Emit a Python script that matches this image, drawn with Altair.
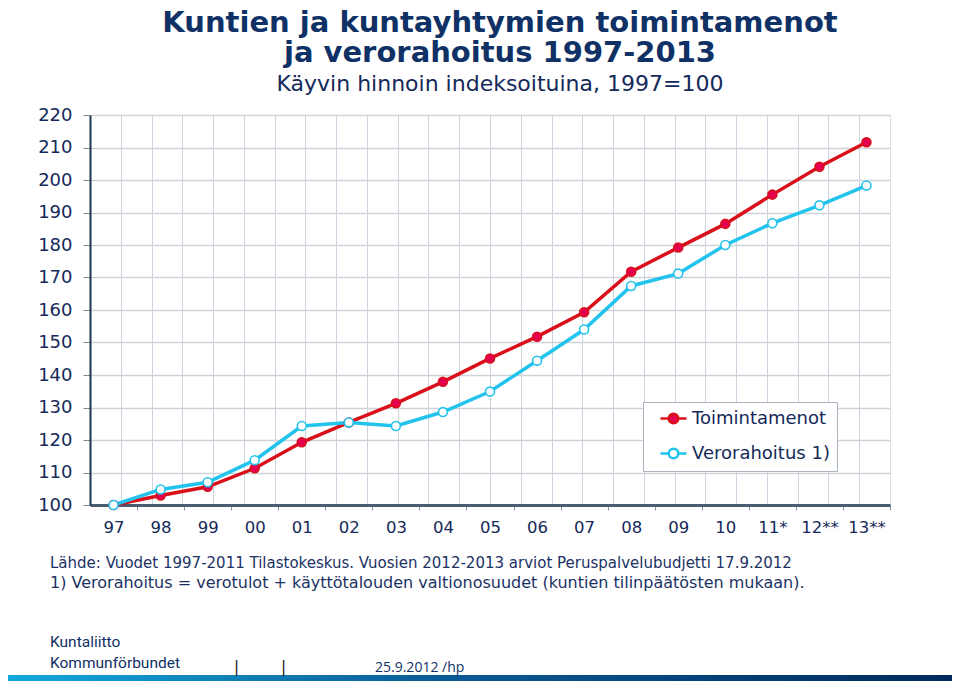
import altair as alt
import pandas as pd

YEARS = ["97", "98", "99", "00", "01", "02", "03", "04", "05", "06", "07", "08",
         "09", "10", "11*", "12**", "13**"]
TOIMINTAMENOT = [100, 102.9, 105.6, 111.3, 119.3, 125.4, 131.3, 137.9, 145.1, 151.8,
                 159.3, 171.8, 179.2, 186.5, 195.5, 204.1, 211.6]
VERORAHOITUS = [100, 104.8, 107.0, 113.8, 124.3, 125.4, 124.3, 128.6, 134.9, 144.4,
                154.0, 167.4, 171.2, 180.0, 186.7, 192.2, 198.3]
SERIES = ["Toimintamenot", "Verorahoitus 1)"]
Y_TICKS = list(range(100, 221, 10))
GRID_DIVISIONS = 26
TITLE_LINES = ["Kuntien ja kuntayhtymien toimintamenot", "ja verorahoitus 1997-2013"]
SUBTITLE = "Käyvin hinnoin indeksoituina, 1997=100"
FOOTNOTES = [
    "Lähde: Vuodet 1997-2011 Tilastokeskus. Vuosien 2012-2013 arviot Peruspalvelubudjetti 17.9.2012",
    "1) Verorahoitus = verotulot + käyttötalouden valtionosuudet (kuntien tilinpäätösten mukaan).",
]
LOGO_LINES = ["Kuntaliitto", "Kommunförbundet"]
DATE_TEXT = "25.9.2012 /hp"

NAVY = "#15295a"
TITLE_NAVY = "#0f3166"
FRAME = "#1f3550"
RED = "#d9101a"
PINK = "#e5004f"
CYAN = "#22c3ec"

W, H = 800, 390
PAD = {"left": 82, "top": 107, "right": 62, "bottom": 176}

df = pd.DataFrame({
    "year": YEARS * 2,
    "series": [SERIES[0]] * len(YEARS) + [SERIES[1]] * len(YEARS),
    "value": TOIMINTAMENOT + VERORAHOITUS,
})

step = W / len(YEARS)

SYMBOL = ("M-1.625,0H-0.6M0.6,0H1.625"
          "M-0.6,0A0.6,0.6,0,1,1,0.6,0A0.6,0.6,0,1,1,-0.6,0Z")

legend = alt.Legend(
    title=None, orient="none", legendX=553, legendY=287,
    symbolType=SYMBOL, symbolSize=256, symbolStrokeWidth=2.5,
    labelFontSize=18, labelFont="DejaVu Sans", labelColor=NAVY,
    fillColor="white", strokeColor="#aab4c0", padding=7,
    rowPadding=14, labelOffset=9, symbolOffset=14, labelLimit=300,
)

x_enc = alt.X(
    "year:N", sort=YEARS,
    scale=alt.Scale(type="point", padding=0.5),
    axis=alt.Axis(title=None, labelAngle=0, tickSize=5, tickOffset=step / 2,
                  labelOffset=-step / 2, tickColor="#8a96a8", domainColor="#4a5b72",
                  domainWidth=3, labelFontSize=16.5, labelFont="DejaVu Sans",
                  labelColor=NAVY, labelPadding=9, grid=False),
)
y_enc = alt.Y(
    "value:Q",
    scale=alt.Scale(domain=[100, 220], nice=False, zero=False),
    axis=alt.Axis(title=None, values=Y_TICKS, grid=True, gridColor="#cfd3d8",
                  gridWidth=1.5, tickSize=7, tickColor="#7d8898", domainColor=FRAME,
                  domainWidth=2, labelFontSize=18, labelFont="DejaVu Sans",
                  labelColor=NAVY, labelPadding=11),
)

stroke_scale = alt.Scale(domain=SERIES, range=[RED, CYAN])
fill_scale = alt.Scale(domain=SERIES, range=[PINK, "white"])

lines = alt.Chart(df).mark_line(strokeWidth=3.5).encode(
    x=x_enc, y=y_enc,
    stroke=alt.Stroke("series:N", scale=stroke_scale, legend=legend),
)
points = alt.Chart(df).mark_point(size=80, strokeWidth=1.6, opacity=1, filled=False).encode(
    x=x_enc, y=y_enc,
    stroke=alt.Stroke("series:N", scale=stroke_scale, legend=legend),
    fill=alt.Fill("series:N", scale=fill_scale, legend=legend),
)
main = alt.layer(lines, points)

grid = alt.Chart(pd.DataFrame({"g": [0, GRID_DIVISIONS]})).mark_point(opacity=0).encode(
    x=alt.X("g:Q", scale=alt.Scale(domain=[0, GRID_DIVISIONS], nice=False, zero=False),
            axis=alt.Axis(orient="top", values=list(range(1, GRID_DIVISIONS)),
                          labels=False, ticks=False, domain=False, grid=True,
                          gridColor="#cbd3de", gridWidth=1, title=None)),
)


def text_layer(txt, x, y, size, font="DejaVu Sans", color=NAVY, weight="normal"):
    return alt.Chart(pd.DataFrame({"t": [txt]})).mark_text(
        align="left", baseline="alphabetic", fontSize=size, font=font,
        color=color, fontWeight=weight,
    ).encode(text="t:N", x=alt.value(x), y=alt.value(y))


texts = [
    text_layer(FOOTNOTES[0], -40, 453, 15, color="#1b3264"),
    text_layer(FOOTNOTES[1], -40, 473, 16, color="#1b3264"),
    text_layer(LOGO_LINES[0], -40, 532, 15.5, font="Roboto", color=TITLE_NAVY),
    text_layer(LOGO_LINES[1], -40, 553, 15.5, font="Roboto", color=TITLE_NAVY),
    text_layer("|", 144, 557, 15, font="DejaVu Sans", color="#111111"),
    text_layer("|", 191, 557, 15, font="DejaVu Sans", color="#111111"),
    text_layer(DATE_TEXT, 285, 557, 14, font="Open Sans", color=TITLE_NAVY),
]

bar = alt.Chart(pd.DataFrame({"b": [0]})).mark_rect(
    color=alt.LinearGradient(
        gradient="linear", x1=0, x2=1, y1=0, y2=0,
        stops=[alt.GradientStop(color="#12a8dc", offset=0),
               alt.GradientStop(color="#0a5c98", offset=0.45),
               alt.GradientStop(color="#002a5c", offset=1)],
    )
).encode(x=alt.value(-82), x2=alt.value(862), y=alt.value(560), y2=alt.value(568))

chart = alt.layer(grid, main, bar, *texts).resolve_scale(x="independent").properties(
    width=W, height=H,
    autosize=alt.AutoSizeParams(type="none"),
    padding=PAD,
    title=alt.TitleParams(
        text=TITLE_LINES, subtitle=SUBTITLE, anchor="middle", dx=10,
        font="DejaVu Sans", fontSize=29, fontWeight="bold", color=TITLE_NAVY,
        lineHeight=30, subtitleFont="DejaVu Sans", subtitleFontSize=22,
        subtitleColor=NAVY, subtitlePadding=6, offset=11,
    ),
).configure_view(stroke=FRAME, strokeWidth=2).configure(background="white")

chart.save("out.html", embed_options={"renderer": "svg", "actions": False})
